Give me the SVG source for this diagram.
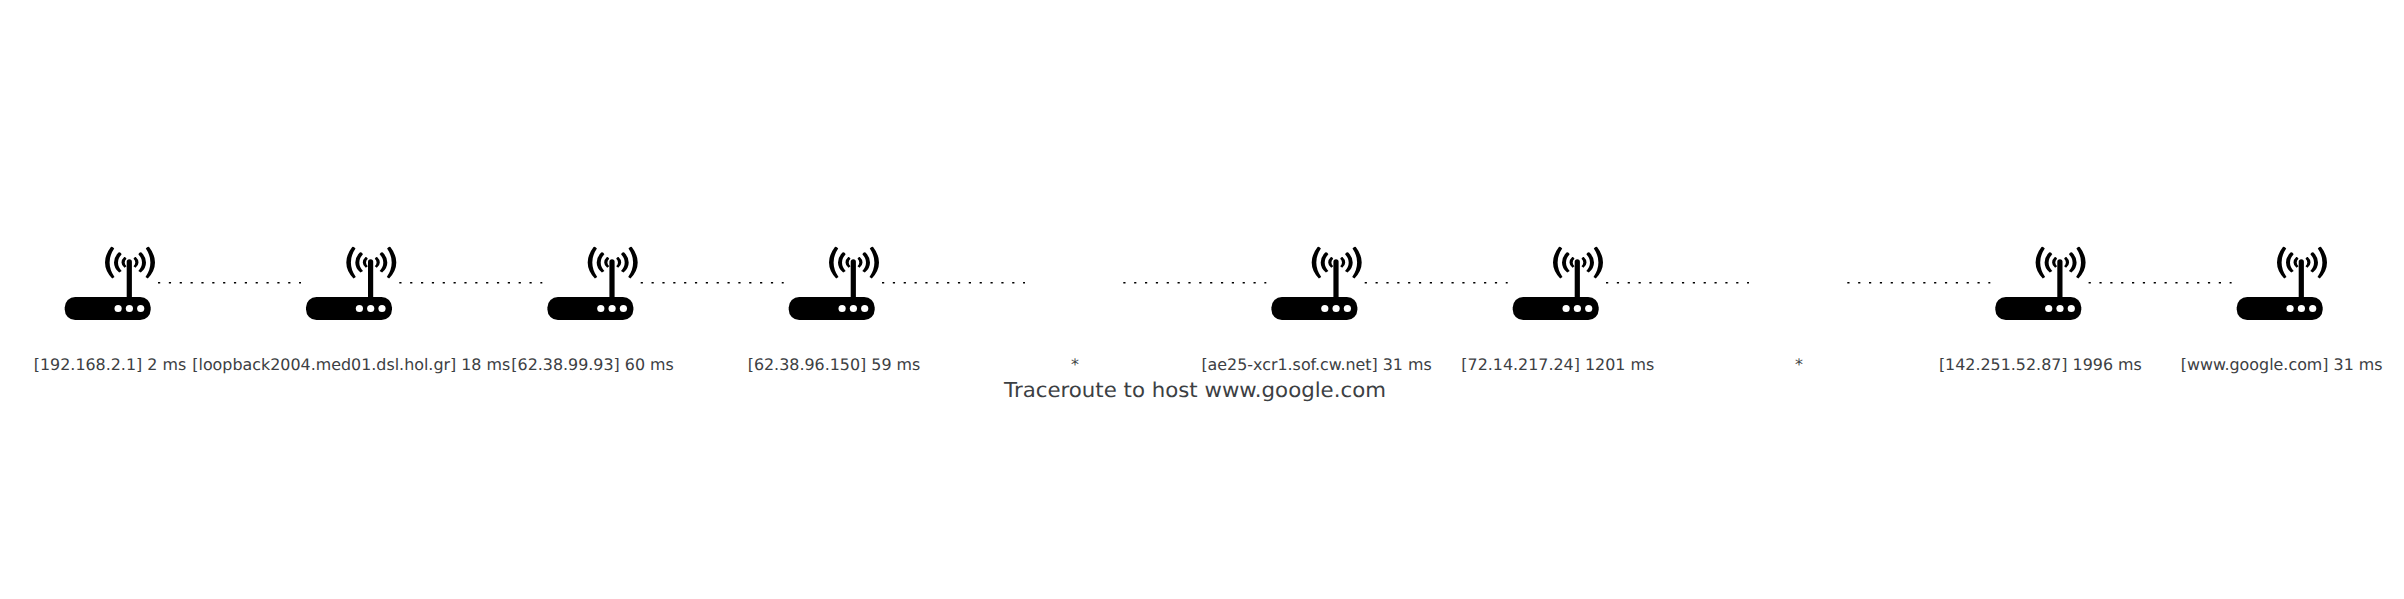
<svg xmlns="http://www.w3.org/2000/svg" width="2404" height="599" viewBox="0 0 2404 599">
<style>
text{font-family:"DejaVu Sans",sans-serif;fill:#3c4043;text-anchor:middle;text-rendering:geometricPrecision}
.l{font-size:15.900px}
.t{font-size:20.500px}
.c{fill:none;stroke:#000;stroke-width:1.600;stroke-dasharray:2.200 8.650}
</style>
<defs>
<path id="a" d="M46.200 -50Q40.300 -42.500 40.300 -34.500Q40.300 -26 47.500 -18.500L49.800 -20Q44.900 -27 44.900 -34.500Q44.900 -42 49.500 -48.500Q47.500 -51 46.200 -50ZM53.800 -44.500Q49.300 -40 49.300 -34.500Q49.300 -28.500 54.500 -24.500L57 -26Q53.300 -30 53.300 -34.500Q53.300 -39 57 -42.700Q55.500 -45.500 53.800 -44.500ZM59.500 -40Q56.800 -37.500 56.800 -34.500Q56.800 -31.500 59.800 -29.300L61.800 -30.800Q60 -32.500 60 -34.500Q60 -36.500 61.800 -38.300Q60.800 -40.500 59.500 -40Z" fill="#000"/>
<g id="r">
<rect x="0" y="0" width="86" height="23" rx="10.500" fill="#000"/>
<circle cx="53.400" cy="11.500" r="3.600" fill="#fff"/><circle cx="64.700" cy="11.500" r="3.600" fill="#fff"/><circle cx="76" cy="11.500" r="3.600" fill="#fff"/>
<path d="M62 1V-35.200a2.600 2.600 0 0 1 5.200 0V1Z" fill="#000"/>
<use href="#a"/>
<use href="#a" transform="matrix(-1 0 0 1 130.600 0)"/>
</g>
</defs>
<g id="connectors">
<path class="c" d="M158 282.700H301"/><path class="c" d="M399.300 282.700H542.300"/><path class="c" d="M640.700 282.700H783.700"/><path class="c" d="M882 282.700H1025"/><path class="c" d="M1123.300 282.700H1266.300"/><path class="c" d="M1364.700 282.700H1507.700"/><path class="c" d="M1606 282.700H1749"/><path class="c" d="M1847.300 282.700H1990.300"/><path class="c" d="M2088.600 282.700H2231.600"/>
</g>
<g id="n0"><use href="#r" x="64.700" y="297"/><text class="l" x="110" y="370">[192.168.2.1] 2 ms</text></g>
<g id="n1"><use href="#r" x="306" y="297"/><text class="l" x="351.300" y="370">[loopback2004.med01.dsl.hol.gr] 18 ms</text></g>
<g id="n2"><use href="#r" x="547.400" y="297"/><text class="l" x="592.600" y="370">[62.38.99.93] 60 ms</text></g>
<g id="n3"><use href="#r" x="788.700" y="297"/><text class="l" x="834" y="370">[62.38.96.150] 59 ms</text></g>
<g id="n4"><text class="l" x="1075" y="370">*</text></g>
<g id="n5"><use href="#r" x="1271.400" y="297"/><text class="l" x="1316.600" y="370">[ae25-xcr1.sof.cw.net] 31 ms</text></g>
<g id="n6"><use href="#r" x="1512.700" y="297"/><text class="l" x="1557.800" y="370">[72.14.217.24] 1201 ms</text></g>
<g id="n7"><text class="l" x="1799" y="370">*</text></g>
<g id="n8"><use href="#r" x="1995.300" y="297"/><text class="l" x="2040.400" y="370">[142.251.52.87] 1996 ms</text></g>
<g id="n9"><use href="#r" x="2236.700" y="297"/><text class="l" x="2281.700" y="370">[www.google.com] 31 ms</text></g>
<text class="t" x="1195" y="397" textLength="382" lengthAdjust="spacingAndGlyphs">Traceroute to host www.google.com</text>
</svg>
